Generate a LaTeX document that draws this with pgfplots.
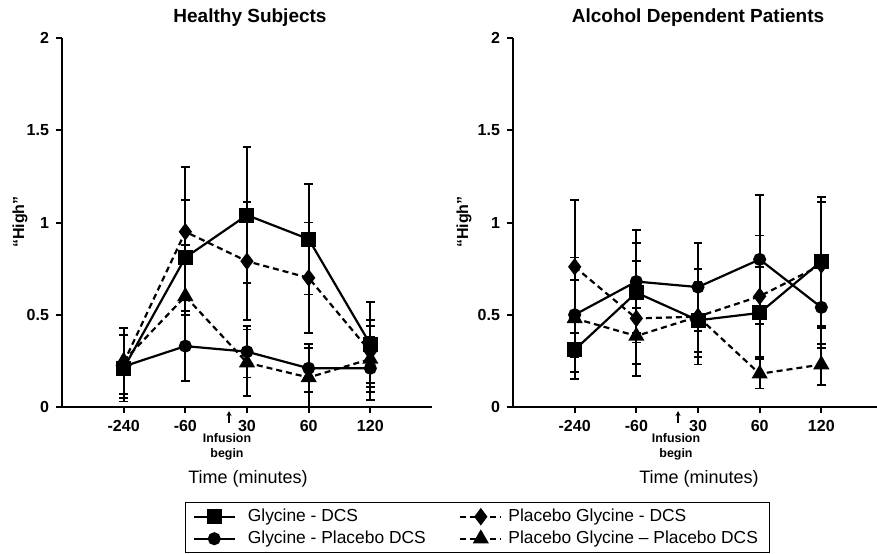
\documentclass[border=0pt]{standalone}
\usepackage{fontspec}
\setmainfont{Liberation Sans}
\usepackage{pgfplots}
\pgfplotsset{compat=1.18}
\usepackage{pgfplotstable}
\usetikzlibrary{arrows.meta}

\pgfplotstableread{
x sq sqe ci cie di die tr tre
1 0.21 0.18 0.22 0.17 0.24 0.19 0.25 0.18
2 0.81 0.31 0.33 0.19 0.95 0.35 0.60 0.28
3 1.04 0.37 0.30 0.14 0.79 0.32 0.24 0.18
4 0.91 0.30 0.21 0.13 0.70 0.30 0.16 0.16
5 0.34 0.23 0.21 0.17 0.30 0.17 0.26 0.18
}\healthy

\pgfplotstableread{
x sq sqe ci cie di die tr tre
1 0.31 0.16 0.50 0.31 0.76 0.36 0.48 0.21
2 0.62 0.27 0.68 0.28 0.48 0.31 0.385 0.15
3 0.47 0.20 0.65 0.24 0.49 0.26 0.49 0.19
4 0.51 0.25 0.80 0.35 0.60 0.33 0.18 0.08
5 0.79 0.35 0.54 0.22 0.77 0.34 0.23 0.11
}\alcohol

\pgfplotsset{
  panel/.style={
    scale only axis, width=185pt, height=184.5pt,
    xmin=0, xmax=6, ymin=0, ymax=2,
    axis x line*=bottom, axis y line*=left,
    axis line style={line width=1pt, black},
    xtick={1,2,3,4,5}, xticklabels={-240,-60,30,60,120},
    ytick={0,0.5,1,1.5,2}, yticklabels={0,0.5,1,1.5,2},
    tick align=outside, major tick length=3pt,
    tick style={line width=1pt, black},
    ticklabel style={font=\fontsize{8}{9}\selectfont\bfseries},
    clip=false,
    legend image code/.code={%
      \draw[mark repeat=2,mark phase=2,##1] plot coordinates {(0pt,0pt) (10.25pt,0pt) (20.5pt,0pt)};},
  },
  ebar/.style={error bars/.cd, y dir=both, y explicit,
    error bar style={line width=1pt, solid, black},
    error mark options={rotate=90, line width=0.9pt, mark size=2.2pt, solid, black}},
  ssq/.style={black, solid, line width=1.1pt, mark=square*, mark size=3.2pt, mark options={solid}},
  sci/.style={black, solid, line width=1.1pt, mark=*, mark size=2.7pt, mark options={solid}},
  sdi/.style={black, line width=1.1pt, dash pattern=on 3pt off 2pt, mark=diamond*, mark size=3.5pt, mark options={solid}},
  str/.style={black, line width=1.1pt, dash pattern=on 3pt off 2pt, mark=triangle*, mark size=3.6pt, mark options={solid}},
}

\begin{document}
\begin{tikzpicture}
\useasboundingbox (0pt,0pt) rectangle (438.5pt,276.5pt);

\begin{axis}[panel, at={(31pt,73pt)}, anchor=south west,
  legend columns=2, legend cell align=left,
  legend style={at={(0.3324,-0.2575)}, anchor=north west, draw=black, line width=0.7pt,
    font=\fontsize{8.7}{10}\selectfont, inner xsep=3.5pt, inner ysep=1.5pt,
    /tikz/column 1/.style={column sep=3.8pt},
    /tikz/column 2/.style={column sep=14.5pt},
    /tikz/column 3/.style={column sep=0.8pt},
    nodes={text height=6.3pt, text depth=1.8pt, inner xsep=2.2pt, inner ysep=1.45pt}}]
\addplot+[ssq, ebar] table[x=x, y=sq, y error=sqe] {\healthy};
\addlegendentry{Glycine - DCS}
\addplot+[sdi, ebar] table[x=x, y=di, y error=die] {\healthy};
\addlegendentry{Placebo Glycine - DCS}
\addplot+[sci, ebar] table[x=x, y=ci, y error=cie] {\healthy};
\addlegendentry{Glycine - Placebo DCS}
\addplot+[str, ebar] table[x=x, y=tr, y error=tre] {\healthy};
\addlegendentry{Placebo Glycine -- Placebo DCS}
\end{axis}

\begin{axis}[panel, at={(256.5pt,73pt)}, anchor=south west]
\addplot+[ssq, ebar] table[x=x, y=sq, y error=sqe] {\alcohol};
\addplot+[sdi, ebar] table[x=x, y=di, y error=die] {\alcohol};
\addplot+[sci, ebar] table[x=x, y=ci, y error=cie] {\alcohol};
\addplot+[str, ebar] table[x=x, y=tr, y error=tre] {\alcohol};
\end{axis}

% titles
\node[font=\fontsize{9.5}{11}\selectfont\bfseries] at (125pt,267.5pt) {Healthy Subjects};
\node[font=\fontsize{9.5}{11}\selectfont\bfseries] at (349pt,267.5pt) {Alcohol Dependent Patients};
% y labels
\node[rotate=90, font=\fontsize{8}{9}\selectfont\bfseries] at (10pt,165.5pt) {“High”};
\node[rotate=90, font=\fontsize{8}{9}\selectfont\bfseries] at (232pt,165.5pt) {“High”};
% x labels
\node[anchor=base, font=\fontsize{9}{11}\selectfont] at (124pt,35pt) {Time (minutes)};
\node[anchor=base, font=\fontsize{9}{11}\selectfont] at (349.5pt,35pt) {Time (minutes)};
% infusion begin
\foreach \xx in {114.5pt,339pt}{
  \draw[line width=0.6pt, -{Stealth[length=2.5pt,width=2.5pt]}] (\xx,65pt) -- (\xx,71pt);
  \node[font=\fontsize{6.2}{7}\selectfont\bfseries] at ([xshift=-1pt]\xx,57.5pt) {Infusion};
  \node[font=\fontsize{6.2}{7}\selectfont\bfseries] at ([xshift=-1pt]\xx,49.5pt) {begin};
}
\end{tikzpicture}
\end{document}
